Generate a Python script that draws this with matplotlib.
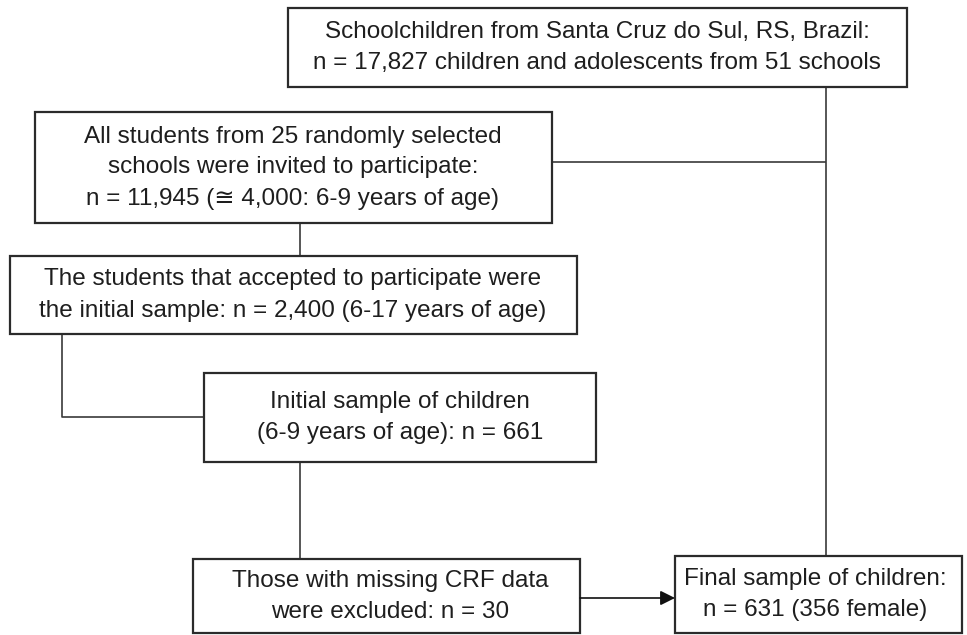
import matplotlib
matplotlib.use("Agg")
import matplotlib.pyplot as plt
from matplotlib.patches import Rectangle, FancyArrowPatch

plt.rcParams['font.family'] = ['Liberation Sans', 'DejaVu Sans']

# Box texts (content)
box_texts = [
    ["Schoolchildren from Santa Cruz do Sul, RS, Brazil:",
     "n = 17,827 children and adolescents from 51 schools"],
    ["All students from 25 randomly selected",
     "schools were invited to participate:",
     "n = 11,945 (\u2245 4,000: 6-9 years of age)"],
    ["The students that accepted to participate were",
     "the initial sample: n = 2,400 (6-17 years of age)"],
    ["Initial sample of children",
     "(6-9 years of age): n = 661"],
    ["Those with missing CRF data",
     "were excluded: n = 30"],
    ["Final sample of children:",
     "n = 631 (356 female)"],
]

# Layout (pixels: x0, y0, x1, y1)
box_geom = [
    (288, 8, 907, 87),
    (35, 112, 552, 223),
    (10, 256, 577, 334),
    (204, 373, 596, 462),
    (193, 559, 580, 633),
    (675, 556, 962, 633),
]
text_cx = [597, 293, 293, 400, 390, 815]

W, H = 967, 635
fig = plt.figure(figsize=(W / 100, H / 100), dpi=100)
ax = fig.add_axes([0, 0, 1, 1])
ax.set_xlim(0, W)
ax.set_ylim(H, 0)
ax.axis('off')

edge = '#2b2b2b'
line_c = '#3a3a3a'
fs = 17.5
line_gap = 31

for (x0, y0, x1, y1), lines, cx in zip(box_geom, box_texts, text_cx):
    ax.add_patch(Rectangle((x0, y0), x1 - x0, y1 - y0, fill=True,
                           facecolor='white', edgecolor=edge, lw=1.6, zorder=2))
    cy = (y0 + y1) / 2
    n = len(lines)
    for i, t in enumerate(lines):
        yy = cy + (i - (n - 1) / 2) * line_gap
        ax.text(cx, yy, t, ha='center', va='center', fontsize=fs,
                color='#1e1e1e', zorder=3)

def seg(xs, ys):
    ax.plot(xs, ys, color=line_c, lw=1.2, zorder=1, solid_capstyle='butt')

# Connectors
seg([826, 826], [87, 556])          # top box -> final box
seg([552, 826], [162, 162])         # box2 -> trunk
seg([300, 300], [223, 256])         # box2 -> box3
seg([62, 62, 204], [334, 417, 417]) # box3 -> box4
seg([300, 300], [462, 559])         # box4 -> box5

arr = FancyArrowPatch((580, 598), (675, 598), arrowstyle='-|>',
                      mutation_scale=22, color='#111111', lw=1.2,
                      shrinkA=0, shrinkB=0, zorder=4)
ax.add_patch(arr)

fig.savefig('out.png', dpi=100, facecolor='white')
